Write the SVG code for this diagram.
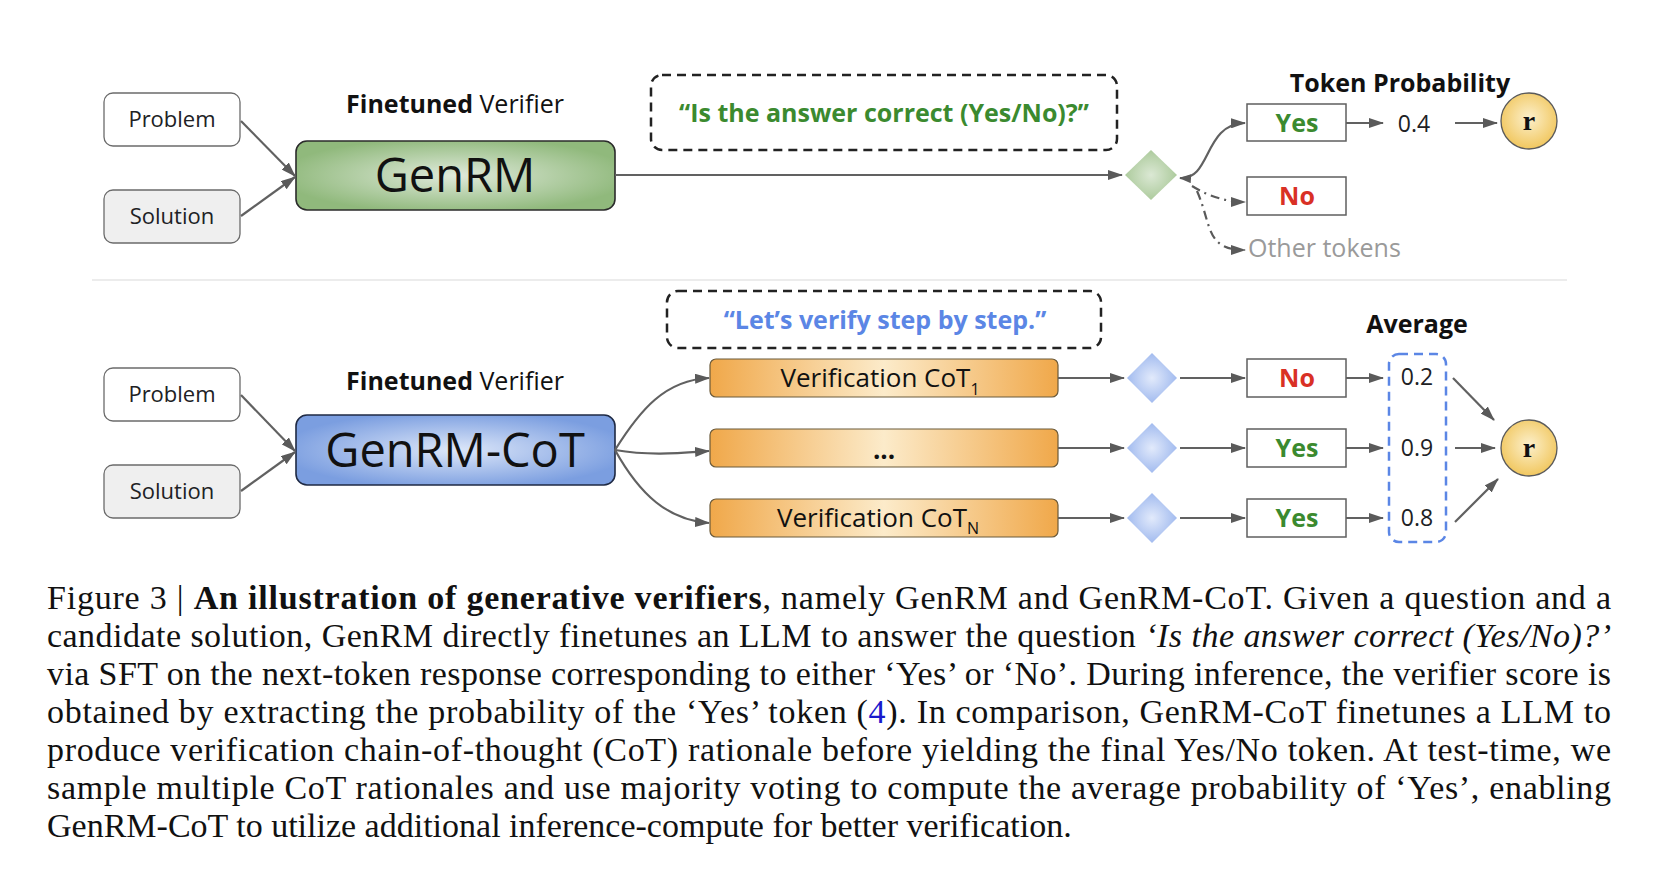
<svg xmlns="http://www.w3.org/2000/svg" width="1664" height="876" viewBox="0 0 1664 876">
<style>
.sans{font-family:"Open Sans","Liberation Sans",sans-serif;}
.lbl{font-family:"Open Sans","Liberation Sans",sans-serif;font-size:22px;fill:#202124;text-anchor:middle;}
.tok{font-family:"Open Sans","Liberation Sans",sans-serif;font-size:25px;font-weight:bold;text-anchor:middle;}
.val{font-family:"Open Sans","Liberation Sans",sans-serif;font-size:23px;fill:#202124;text-anchor:middle;}
.head{font-family:"Open Sans","Liberation Sans",sans-serif;font-size:25px;fill:#111;text-anchor:middle;}
.big{font-family:"Open Sans","Liberation Sans",sans-serif;font-size:47px;fill:#111;text-anchor:middle;}
.cot{font-family:"Open Sans","Liberation Sans",sans-serif;font-size:26px;fill:#111;}
.inbox{fill:#fff;stroke:#6b6b6b;stroke-width:1.3;}
.tokbox{fill:#fff;stroke:#5f5f5f;stroke-width:1.5;}
.conn{fill:none;stroke:#616161;stroke-width:2.2;}
.dd{fill:none;stroke:#5a5a5a;stroke-width:2.2;stroke-dasharray:9 5 2 5;}
.cap{font-family:"Liberation Serif","Times New Roman",serif;font-size:34px;fill:#111;}
.rtxt{font-family:"Liberation Serif",serif;font-size:28px;font-weight:bold;fill:#111;text-anchor:middle;}
</style>
<defs>
<marker id="ah" viewBox="0 0 15 10" refX="14" refY="5" markerWidth="15" markerHeight="10" markerUnits="userSpaceOnUse" orient="auto">
<path d="M0,0 L15,5 L0,10 z" fill="#5a5a5a"/>
</marker>
<marker id="ahs" viewBox="0 0 12 9" refX="11" refY="4.5" markerWidth="12" markerHeight="9" markerUnits="userSpaceOnUse" orient="auto-start-reverse">
<path d="M0,0 L12,4.5 L0,9 z" fill="#5a5a5a"/>
</marker>
<radialGradient id="gGreen" cx="50%" cy="50%" r="55%">
<stop offset="0" stop-color="#e0eadb"/>
<stop offset="1" stop-color="#90b97c"/>
</radialGradient>
<radialGradient id="gBlue" cx="50%" cy="50%" r="55%">
<stop offset="0" stop-color="#dde7f9"/>
<stop offset="1" stop-color="#7b9ee0"/>
</radialGradient>
<linearGradient id="gOrange" x1="0" y1="0" x2="1" y2="0">
<stop offset="0" stop-color="#f0a84a"/>
<stop offset="0.5" stop-color="#fcebca"/>
<stop offset="1" stop-color="#f0a84a"/>
</linearGradient>
<radialGradient id="gDiaG" cx="50%" cy="50%" r="50%">
<stop offset="0" stop-color="#dbe8d4"/>
<stop offset="1" stop-color="#adcb9d"/>
</radialGradient>
<radialGradient id="gDiaB" cx="50%" cy="50%" r="50%">
<stop offset="0" stop-color="#e2eafb"/>
<stop offset="1" stop-color="#a2bbef"/>
</radialGradient>
<radialGradient id="gGold" cx="50%" cy="45%" r="55%">
<stop offset="0" stop-color="#fcf0cc"/>
<stop offset="1" stop-color="#f1c75f"/>
</radialGradient>
</defs>

<!-- ===== Top: GenRM ===== -->
<g id="problem1"><rect class="inbox" x="104" y="93" width="136" height="53" rx="9"/><text class="lbl" x="172" y="127">Problem</text></g>
<g id="solution1"><rect class="inbox" x="104" y="190" width="136" height="53" rx="9" style="fill:#efefef"/><text class="lbl" x="172" y="224">Solution</text></g>
<g id="title1"><text class="head" x="455" y="113"><tspan font-weight="bold">Finetuned</tspan> Verifier</text></g>
<g id="genrm"><rect x="296" y="141" width="319" height="69" rx="11" fill="url(#gGreen)" stroke="#2b2b2b" stroke-width="1.6"/><text class="big" x="455" y="192">GenRM</text></g>
<g id="prompt1"><rect x="651" y="75" width="466" height="75" rx="11" fill="none" stroke="#222" stroke-width="2.5" stroke-dasharray="9 6"/><text class="tok" x="884" y="122" fill="#3b8a2f">“Is the answer correct (Yes/No)?”</text></g>
<g id="diamond1"><polygon points="1151,150 1177,175 1151,200 1125,175" fill="url(#gDiaG)"/></g>
<g id="tokprob"><text class="head" x="1400" y="92" font-weight="bold">Token Probability</text></g>
<g id="yes1"><rect class="tokbox" x="1247" y="104" width="99" height="37"/><text class="tok" x="1297" y="132" fill="#3b8a2f" font-size="26">Yes</text></g>
<g id="no1"><rect class="tokbox" x="1247" y="177" width="99" height="38"/><text class="tok" x="1297" y="205" fill="#d93025">No</text></g>
<g id="other"><text class="sans" x="1248" y="257" font-size="25" fill="#9a9a9a">Other tokens</text></g>
<g id="prob04"><text class="val" x="1414" y="132" font-size="26">0.4</text></g>
<g id="r1"><circle cx="1529" cy="121" r="28" fill="url(#gGold)" stroke="#5a5a5a" stroke-width="1.3"/><text class="rtxt" x="1529" y="130">r</text></g>

<line x1="92" y1="280" x2="1567" y2="280" stroke="#d9d9d9" stroke-width="1.2"/>

<!-- ===== Bottom: GenRM-CoT ===== -->
<g id="problem2"><rect class="inbox" x="104" y="368" width="136" height="53" rx="9"/><text class="lbl" x="172" y="402">Problem</text></g>
<g id="solution2"><rect class="inbox" x="104" y="465" width="136" height="53" rx="9" style="fill:#efefef"/><text class="lbl" x="172" y="499">Solution</text></g>
<g id="title2"><text class="head" x="455" y="390"><tspan font-weight="bold">Finetuned</tspan> Verifier</text></g>
<g id="genrmcot"><rect x="296" y="415" width="319" height="70" rx="11" fill="url(#gBlue)" stroke="#1f2a44" stroke-width="1.6"/><text class="big" x="455" y="467">GenRM-CoT</text></g>
<g id="prompt2"><rect x="667" y="291" width="434" height="57" rx="11" fill="none" stroke="#222" stroke-width="2.5" stroke-dasharray="9 6"/><text class="tok" x="885" y="329" fill="#5b86e5">“Let’s verify step by step.”</text></g>
<g id="cot1"><rect x="710" y="359" width="348" height="38" rx="6" fill="url(#gOrange)" stroke="#6b5a3a" stroke-width="1.2"/><text class="cot" x="880" y="387" text-anchor="middle">Verification CoT<tspan font-size="16" dy="8">1</tspan></text></g>
<g id="cot2"><rect x="710" y="429" width="348" height="38" rx="6" fill="url(#gOrange)" stroke="#6b5a3a" stroke-width="1.2"/><text class="cot" x="884" y="459" text-anchor="middle" font-weight="bold" font-size="24">...</text></g>
<g id="cotN"><rect x="710" y="499" width="348" height="38" rx="6" fill="url(#gOrange)" stroke="#6b5a3a" stroke-width="1.2"/><text class="cot" x="878" y="527" text-anchor="middle">Verification CoT<tspan font-size="16" dy="7">N</tspan></text></g>
<g id="diamond2a"><polygon points="1152,353 1177,378 1152,403 1127,378" fill="url(#gDiaB)"/></g>
<g id="diamond2b"><polygon points="1152,423 1177,448 1152,473 1127,448" fill="url(#gDiaB)"/></g>
<g id="diamond2c"><polygon points="1152,493 1177,518 1152,543 1127,518" fill="url(#gDiaB)"/></g>
<g id="no2"><rect class="tokbox" x="1247" y="359" width="99" height="38"/><text class="tok" x="1297" y="387" fill="#d93025">No</text></g>
<g id="yes2"><rect class="tokbox" x="1247" y="429" width="99" height="38"/><text class="tok" x="1297" y="457" fill="#3b8a2f" font-size="26">Yes</text></g>
<g id="yes3"><rect class="tokbox" x="1247" y="499" width="99" height="38"/><text class="tok" x="1297" y="527" fill="#3b8a2f" font-size="26">Yes</text></g>
<g id="average"><text class="head" x="1417" y="333" font-weight="bold">Average</text>
<rect x="1389" y="354" width="57" height="188" rx="10" fill="none" stroke="#5b86e5" stroke-width="2.5" stroke-dasharray="9 6"/>
<text class="val" x="1417" y="385">0.2</text><text class="val" x="1417" y="456">0.9</text><text class="val" x="1417" y="526">0.8</text></g>
<g id="r2"><circle cx="1529" cy="448" r="28" fill="url(#gGold)" stroke="#5a5a5a" stroke-width="1.3"/><text class="rtxt" x="1529" y="457">r</text></g>

<!-- ===== Connectors ===== -->
<g id="connectors">
<path class="conn" d="M241,121 L295,176" marker-end="url(#ah)"/>
<path class="conn" d="M241,216 L295,177" marker-end="url(#ah)"/>
<path class="conn" d="M615,175 L1122,175" marker-end="url(#ah)"/>
<path class="conn" d="M1180,178 C1212,180 1203,124 1245,123" marker-start="url(#ahs)" marker-end="url(#ah)"/>
<path class="dd" d="M1192,186 Q1218,202 1245,202" marker-end="url(#ah)"/>
<path class="dd" d="M1197,191 C1212,225 1205,250 1245,250" marker-end="url(#ah)"/>
<path class="conn" d="M1346,123 L1383,123" marker-end="url(#ah)"/>
<path class="conn" d="M1455,123 L1497,123" marker-end="url(#ah)"/>

<path class="conn" d="M241,395 L295,451" marker-end="url(#ah)"/>
<path class="conn" d="M241,491 L295,452" marker-end="url(#ah)"/>
<path class="conn" d="M615,450 C640,410 665,380 709,378" marker-end="url(#ah)"/>
<path class="conn" d="M615,450 C650,456 680,453 709,451" marker-end="url(#ah)"/>
<path class="conn" d="M615,450 C640,495 668,520 709,523" marker-end="url(#ah)"/>
<path class="conn" d="M1058,378 L1124,378" marker-end="url(#ah)"/>
<path class="conn" d="M1058,448 L1124,448" marker-end="url(#ah)"/>
<path class="conn" d="M1058,518 L1124,518" marker-end="url(#ah)"/>
<path class="conn" d="M1180,378 L1245,378" marker-end="url(#ah)"/>
<path class="conn" d="M1180,448 L1245,448" marker-end="url(#ah)"/>
<path class="conn" d="M1180,518 L1245,518" marker-end="url(#ah)"/>
<path class="conn" d="M1346,378 L1383,378" marker-end="url(#ah)"/>
<path class="conn" d="M1346,448 L1383,448" marker-end="url(#ah)"/>
<path class="conn" d="M1346,518 L1383,518" marker-end="url(#ah)"/>
<path class="conn" d="M1453,378 L1494,420" marker-end="url(#ah)"/>
<path class="conn" d="M1455,448 L1495,448" marker-end="url(#ah)"/>
<path class="conn" d="M1455,522 L1498,479" marker-end="url(#ah)"/>
</g>

<!-- ===== Caption ===== -->
<g id="caption">
<text class="cap" x="47" y="609" textLength="1564" lengthAdjust="spacing">Figure 3 | <tspan font-weight="bold">An illustration of generative verifiers</tspan>, namely GenRM and GenRM-CoT. Given a question and a</text>
<text class="cap" x="47" y="647" textLength="1564" lengthAdjust="spacing">candidate solution, GenRM directly finetunes an LLM to answer the question <tspan font-style="italic">‘Is the answer correct (Yes/No)?’</tspan></text>
<text class="cap" x="47" y="685" textLength="1564" lengthAdjust="spacing">via SFT on the next-token response corresponding to either ‘Yes’ or ‘No’. During inference, the verifier score is</text>
<text class="cap" x="47" y="723" textLength="1564" lengthAdjust="spacing">obtained by extracting the probability of the ‘Yes’ token (<tspan fill="#1a1acc">4</tspan>). In comparison, GenRM-CoT finetunes a LLM to</text>
<text class="cap" x="47" y="761" textLength="1564" lengthAdjust="spacing">produce verification chain-of-thought (CoT) rationale before yielding the final Yes/No token. At test-time, we</text>
<text class="cap" x="47" y="799" textLength="1564" lengthAdjust="spacing">sample multiple CoT rationales and use majority voting to compute the average probability of ‘Yes’, enabling</text>
<text class="cap" x="47" y="837">GenRM-CoT to utilize additional inference-compute for better verification.</text>
</g>
</svg>
